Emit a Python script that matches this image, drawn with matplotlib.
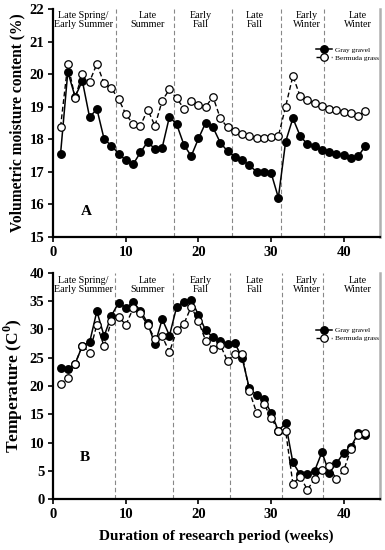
import matplotlib
matplotlib.use("Agg")
import matplotlib.pyplot as plt
import numpy as np

plt.rcParams['font.family'] = ['Liberation Serif', 'DejaVu Serif']
plt.rcParams['mathtext.fontset'] = 'custom'
plt.rcParams['mathtext.rm'] = 'Liberation Serif'
plt.rcParams['mathtext.bf'] = 'Liberation Serif:bold'

# ---------------- data ----------------
weeks = list(range(1, 44))

gravel_moisture = [17.55, 20.07, 19.30, 19.79, 18.67, 18.93, 18.00, 17.80, 17.55, 17.35,
                   17.23, 17.59, 17.92, 17.69, 17.74, 18.69, 18.45, 17.82, 17.48, 18.02,
                   18.51, 18.36, 17.89, 17.63, 17.46, 17.37, 17.19, 17.00, 17.00, 16.96,
                   16.20, 17.92, 18.64, 18.10, 17.84, 17.78, 17.68, 17.59, 17.55, 17.51,
                   17.42, 17.47, 17.80]
bermuda_moisture = [18.38, 20.31, 19.27, 20.00, 19.77, 20.31, 19.71, 19.56, 19.23, 18.76,
                    18.46, 18.41, 18.91, 18.41, 19.18, 19.53, 19.25, 18.94, 19.18, 19.04,
                    19.00, 19.30, 18.64, 18.36, 18.25, 18.17, 18.10, 18.02, 18.04, 18.05,
                    18.09, 19.00, 19.94, 19.32, 19.20, 19.10, 19.03, 18.93, 18.89, 18.84,
                    18.80, 18.72, 18.86]

gravel_temp = [23.25, 22.95, 23.9, 27.1, 27.7, 33.2, 28.8, 32.4, 34.7, 33.8,
               34.8, 33.3, 31.1, 27.35, 31.8, 28.9, 34.0, 34.9, 35.2, 32.55,
               29.8, 28.6, 27.9, 27.5, 27.6, 25.0, 19.6, 18.4, 17.65, 15.3,
               12.1, 13.4, 6.5, 4.4, 4.4, 5.05, 8.3, 4.7, 6.35, 8.2,
               9.3, 11.65, 11.4]
bermuda_temp = [20.3, 21.5, 23.9, 27.1, 25.9, 30.85, 27.0, 31.55, 32.2, 30.8,
                33.7, 32.8, 30.7, 28.3, 28.75, 26.0, 29.8, 31.0, 34.0, 31.4,
                27.95, 26.6, 27.25, 24.4, 25.7, 25.6, 19.1, 15.3, 16.9, 14.4,
                12.1, 12.1, 2.75, 4.0, 1.7, 3.6, 5.2, 5.8, 3.5, 5.1,
                8.9, 11.35, 11.75]

season_labels = ["Late Spring/\nEarly Summer", "Late\nSummer", "Early\nFall",
                 "Late\nFall", "Early\nWinter", "Late\nWinter"]
season_bounds_a = [8.6, 16.6, 24.6, 31.3, 37.3]
season_bounds_b = [8.5, 16.5, 24.4, 31.5, 37.1]
season_label_x = [4.1, 13.0, 20.3, 27.8, 34.9, 42.0]

series_names = ["Gray gravel", "Bermuda grass"]

# ---------------- figure ----------------
W, H = 385, 550
fig = plt.figure(figsize=(W / 100, H / 100), dpi=100)

def px_axes(left, top, right, bottom):
    return fig.add_axes([left / W, 1 - bottom / H, (right - left) / W, (bottom - top) / H])

axA = px_axes(53.3, 9, 380, 236.7)
axB = px_axes(53.3, 272.7, 380, 499.3)


def style(ax, ylim, yticks, bounds, label_y):
    ax.set_xlim(0, 45)
    ax.set_ylim(*ylim)
    ax.set_xticks([0, 10, 20, 30, 40])
    ax.set_yticks(yticks)
    ax.spines['top'].set_visible(False)
    ax.spines['right'].set_color('#b0b0b0')
    ax.spines['right'].set_linewidth(1.8)
    ax.spines['left'].set_linewidth(1.6)
    ax.spines['bottom'].set_linewidth(1.6)
    ax.tick_params(direction='out', length=3.5, width=1.2, labelsize=10.5, pad=3)
    for lab in ax.get_xticklabels() + ax.get_yticklabels():
        lab.set_fontweight('bold')
    for b in bounds:
        ax.axvline(b, color='#888888', lw=0.8, ls=(0, (4, 2.5)), zorder=1)
    for lx, txt in zip(season_label_x, season_labels):
        ax.text(lx, label_y, txt, ha='center', va='top', fontsize=7.3, linespacing=1.0)


def plot_series(ax, g, b, legend_anchor):
    ax.plot(weeks, g, '-', color='black', lw=1.1, marker='o', ms=5.4,
            mfc='black', mec='black', label=series_names[0], zorder=3)
    ax.plot(weeks, b, color='black', lw=1.0, ls=(0, (3.5, 2)), marker='o', ms=5.4,
            mfc='white', mec='black', mew=0.9, label=series_names[1], zorder=4)
    ax.legend(loc='upper left', bbox_to_anchor=legend_anchor, frameon=False,
              fontsize=5.3, handlelength=2.2, handletextpad=0.4,
              labelspacing=0.25, borderaxespad=0, borderpad=0)


style(axA, (15, 22), [15, 16, 17, 18, 19, 20, 21, 22], season_bounds_a, 21.93)
plot_series(axA, gravel_moisture, bermuda_moisture, (0.805, 0.835))
axA.set_ylabel("Volumetric moisture content (%)", fontsize=11.2, fontweight='bold', labelpad=3)
axA.text(4.5, 15.76, "A", fontsize=11, fontweight='bold', ha='center', va='center')

style(axB, (0, 40), [0, 5, 10, 15, 20, 25, 30, 35, 40], season_bounds_b, 39.4)
plot_series(axB, gravel_temp, bermuda_temp, (0.805, 0.76))
axB.set_ylabel(r"Temperature (C$^{\mathbf{0}}$)", fontsize=12.5, fontweight='bold', labelpad=3)
axB.set_xlabel("Duration of research period (weeks)", fontsize=11, fontweight='bold', labelpad=6)
axB.text(4.4, 7.4, "B", fontsize=11, fontweight='bold', ha='center', va='center')

fig.savefig("out.png", dpi=100)
